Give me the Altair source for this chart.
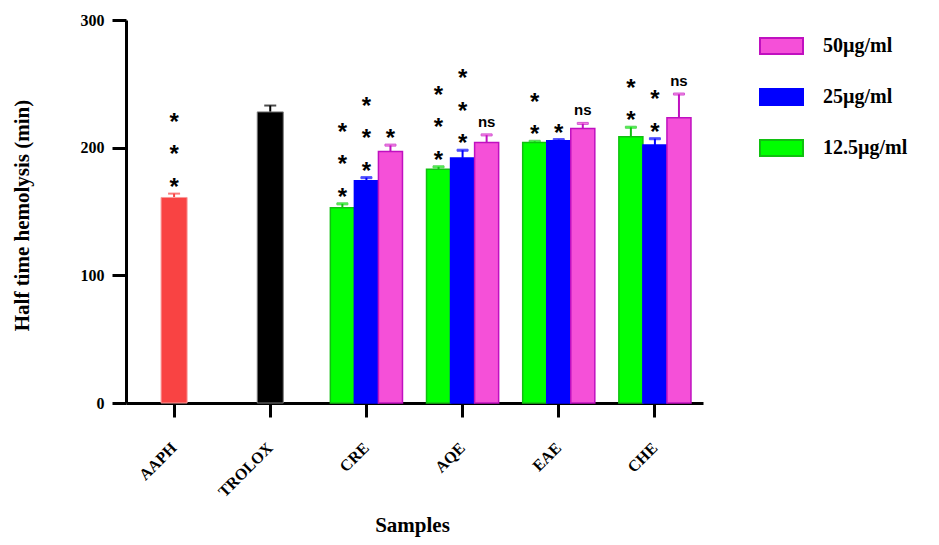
import altair as alt
import pandas as pd

# ---------------- data ----------------
categories = ["AAPH", "TROLOX", "CRE", "AQE", "EAE", "CHE"]

single_samples = ["AAPH", "TROLOX"]
single_means = [161, 228]
single_errs = [3, 5]
single_sig = ["***", ""]

group_samples = ["CRE", "AQE", "EAE", "CHE"]
concentrations = ["12.5µg/ml", "25µg/ml", "50µg/ml"]
means_12_5 = [153, 183, 204, 208.5]
errs_12_5 = [3, 2, 1, 7.5]
sig_12_5 = ["***", "***", "**", "**"]
means_25 = [174, 192, 205.5, 202]
errs_25 = [2.5, 6, 0.8, 5]
sig_25 = ["***", "***", "*", "**"]
means_50 = [197, 204, 215, 223.5]
errs_50 = [5, 6, 4, 18.5]
sig_50 = ["*", "ns", "ns", "ns"]

legend_order = ["50µg/ml", "25µg/ml", "12.5µg/ml"]
fill_colors = ["#F550D8", "#0000FF", "#00FF00"]
stroke_colors = ["#C010C0", "#0000FF", "#10C010"]
single_fill = ["#F94343", "#000000"]
single_stroke = ["#F89A9A", "#7A7A7A"]

PLOT_W, PLOT_H = 577, 383
Y_MAX = 300
STAR_GAP_PX = 32.5

# ---------------- tables ----------------
rows, star_rows = [], []
for conc, means, errs, sigs in zip(concentrations,
                                   [means_12_5, means_25, means_50],
                                   [errs_12_5, errs_25, errs_50],
                                   [sig_12_5, sig_25, sig_50]):
    for s, m, e, g in zip(group_samples, means, errs, sigs):
        rows.append({"sample": s, "conc": conc, "mean": m, "top": m + e,
                     "ns": "ns" if g == "ns" else ""})
        if g != "ns":
            for k, ch in enumerate(g):
                star_rows.append({"sample": s, "conc": conc, "top": m + e, "k": k, "star": ch})
gdf = pd.DataFrame(rows)
gstars = pd.DataFrame(star_rows)

sdf = pd.DataFrame({
    "sample": single_samples, "mean": single_means,
    "top": [m + e for m, e in zip(single_means, single_errs)],
})
sstars = pd.DataFrame([
    {"sample": s, "top": m + e, "k": k, "star": ch}
    for s, m, e, g in zip(single_samples, single_means, single_errs, single_sig)
    for k, ch in enumerate(g)
])

# star stacking: each further star sits one line (STAR_GAP_PX) higher
star_calc = f"datum.top + datum.k * {STAR_GAP_PX} * {Y_MAX} / {PLOT_H}"

SERIF = "Liberation Serif"
SANS = "Liberation Sans"

x_enc = alt.X(
    "sample:N",
    scale=alt.Scale(domain=categories, paddingInner=0.25, paddingOuter=0.125),
    axis=alt.Axis(
        title="Samples", labelAngle=-45, labelAlign="right", labelBaseline="middle",
        labelPadding=28, labelFontSize=16, titleX=286, titleY=128, titleAlign="center",
        titleBaseline="alphabetic",
    ),
)
y_axis = alt.Axis(
    title="Half time hemolysis (min)", values=[0, 100, 200, 300], grid=False,
    labelPadding=8, titleX=-104, titleY=195, titleAlign="center",
    titleBaseline="middle", titleAngle=-90,
)
y_scale = alt.Scale(domain=[0, Y_MAX], nice=False, zero=True)
xoff = alt.XOffset("conc:N", scale=alt.Scale(domain=concentrations, paddingInner=0, paddingOuter=0))

legend = alt.Legend(
    title=None, orient="none", legendX=633, legendY=3.5, padding=0,
    symbolType="M-1,-0.37H1V0.37H-1Z", symbolSize=1849, symbolStrokeWidth=2,
    labelFont=SERIF, labelFontWeight="bold", labelFontSize=20, labelColor="black",
    labelOffset=19, rowPadding=16,
)
fill_enc = alt.Fill("conc:N", scale=alt.Scale(domain=legend_order, range=fill_colors), legend=legend)
stroke_enc = alt.Stroke("conc:N", scale=alt.Scale(domain=legend_order, range=stroke_colors), legend=legend)

gbase = alt.Chart(gdf)
g_bars = gbase.mark_bar(strokeWidth=1.5).encode(
    x=x_enc, xOffset=xoff, y=alt.Y("mean:Q", scale=y_scale, axis=y_axis),
    fill=fill_enc, stroke=stroke_enc,
)
g_rule = gbase.mark_rule(strokeWidth=2).encode(
    x=x_enc, xOffset=xoff, y="mean:Q", y2="top:Q", stroke=stroke_enc,
)
g_cap = gbase.mark_tick(orient="horizontal", size=11, thickness=2).encode(
    x=x_enc, xOffset=xoff, y="top:Q", stroke=stroke_enc, fill=fill_enc,
)
g_stars = alt.Chart(gstars).transform_calculate(sy=star_calc).mark_text(
    baseline="bottom", fontSize=24, font=SANS, fontWeight="bold", dy=6, color="black",
).encode(x=x_enc, xOffset=xoff, y="sy:Q", text="star:N")
g_ns = gbase.mark_text(
    baseline="alphabetic", fontSize=15, font=SANS, fontWeight="bold", dy=-8, color="black",
).encode(x=x_enc, xOffset=xoff, y="top:Q", text="ns:N")

group_layer = alt.layer(g_rule, g_bars, g_cap, g_stars, g_ns)

sbase = alt.Chart(sdf)
s_color = alt.Color("sample:N", scale=alt.Scale(domain=single_samples, range=single_fill), legend=None)
s_bars = sbase.mark_bar(size=26, strokeWidth=1).encode(
    x=x_enc, y=alt.Y("mean:Q", scale=y_scale, axis=y_axis),
    fill=alt.Fill("sample:N", scale=alt.Scale(domain=single_samples, range=single_fill), legend=None),
    stroke=alt.Stroke("sample:N", scale=alt.Scale(domain=single_samples, range=single_stroke), legend=None),
)
s_rule = sbase.mark_rule(strokeWidth=2).encode(x=x_enc, y="mean:Q", y2="top:Q", color=s_color)
s_cap = sbase.mark_tick(orient="horizontal", size=12, thickness=2).encode(
    x=x_enc, y="top:Q", color=s_color)
s_stars = alt.Chart(sstars).transform_calculate(sy=star_calc).mark_text(
    baseline="bottom", fontSize=24, font=SANS, fontWeight="bold", dy=6, color="black",
).encode(x=x_enc, y="sy:Q", text="star:N")

single_layer = alt.layer(s_rule, s_bars, s_cap, s_stars)

chart = alt.layer(group_layer, single_layer).resolve_scale(
    fill="independent", stroke="independent", color="independent"
).properties(
    width=PLOT_W, height=PLOT_H,
    autosize=alt.AutoSizeParams(type="none"),
    padding={"left": 118, "top": 12, "right": 228, "bottom": 134},
).configure_view(stroke=None).configure_axis(
    domainWidth=3, domainColor="black", tickWidth=3, tickColor="black", tickSize=14,
    labelFont=SERIF, labelFontWeight="bold", labelFontSize=16, labelColor="black",
    titleFont=SERIF, titleFontWeight="bold", titleFontSize=21, titleColor="black",
)

chart.save("out.html", embed_options={"renderer": "svg", "actions": False})
